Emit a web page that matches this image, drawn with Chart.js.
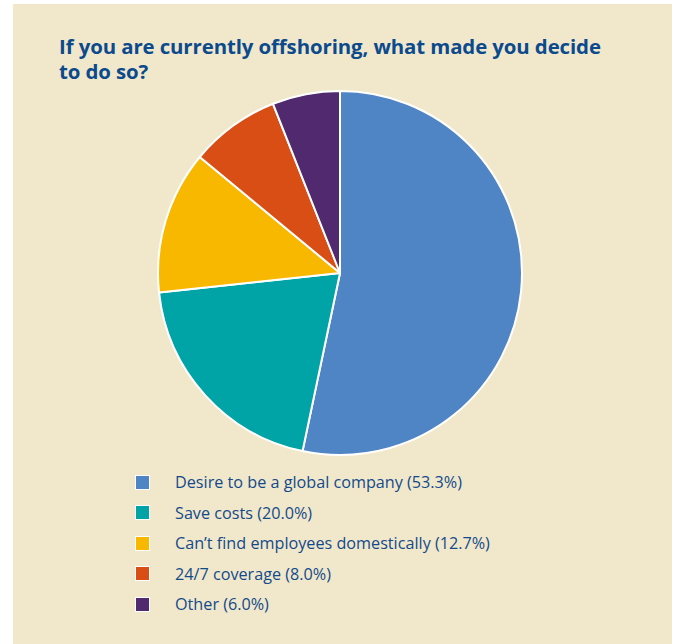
<!DOCTYPE html>
<html>
<head>
<meta charset="utf-8">
<script src="https://cdn.jsdelivr.net/npm/chart.js@4"></script>
<style>
  body { margin: 0; background: #fff; width: 678px; height: 644px; position: relative; overflow: hidden; font-family: "Open Sans", "Noto Sans", sans-serif; }
  #panel { position: absolute; left: 13px; top: 4px; width: 659px; height: 640px; background: #f1e8cc; }
  #title { position: absolute; left: 59px; top: 34px; margin: 0; font-size: 20.4px; line-height: 25px; font-weight: 700; color: #0b4a8c; letter-spacing: -0.1px; }
  #chartBox { position: absolute; left: 157px; top: 90px; width: 366px; height: 366px; }
  #legend { position: absolute; left: 135px; top: 467px; margin: 0; padding: 0; list-style: none; }
  #legend li { height: 30.5px; display: flex; align-items: center; font-size: 16.2px; color: #134a8a; }
  #legend span.box { width: 13px; height: 13px; border: 1px solid #fff; margin-right: 25px; box-sizing: content-box; }
</style>
</head>
<body>
<div id="panel"></div>
<h1 id="title">If you are currently offshoring, what made you decide<br>to do so?</h1>
<div id="chartBox"><canvas id="myChart"></canvas></div>
<ul id="legend"></ul>
<script>
const labels = [
  "Desire to be a global company",
  "Save costs",
  "Can\u2019t find employees domestically",
  "24/7 coverage",
  "Other",
];
const shares = [53.3, 20.0, 12.7, 8.0, 6.0];
const colors = ["#4f85c5", "#00a3a6", "#f9b800", "#d84e14", "#51296f"];

// legend list
const legend = document.getElementById("legend");
labels.forEach((name, i) => {
  const li = document.createElement("li");
  li.innerHTML = '<span class="box" style="background:' + colors[i] + '"></span>' +
    name + " (" + shares[i].toFixed(1) + "%)";
  legend.appendChild(li);
});

const ctx = document.getElementById("myChart");

new Chart(ctx, {
  type: "pie",
  data: {
    labels: labels,
    datasets: [
      {
        data: shares,
        backgroundColor: colors,
        borderColor: "#ffffff",
        borderWidth: 2,
      },
    ],
  },
  options: {
    responsive: true,
    maintainAspectRatio: false,
    animation: false,
    layout: { padding: 0 },
    plugins: {
      legend: { display: false },
      tooltip: { enabled: false },
    },
  },
});
</script>
</body>
</html>
